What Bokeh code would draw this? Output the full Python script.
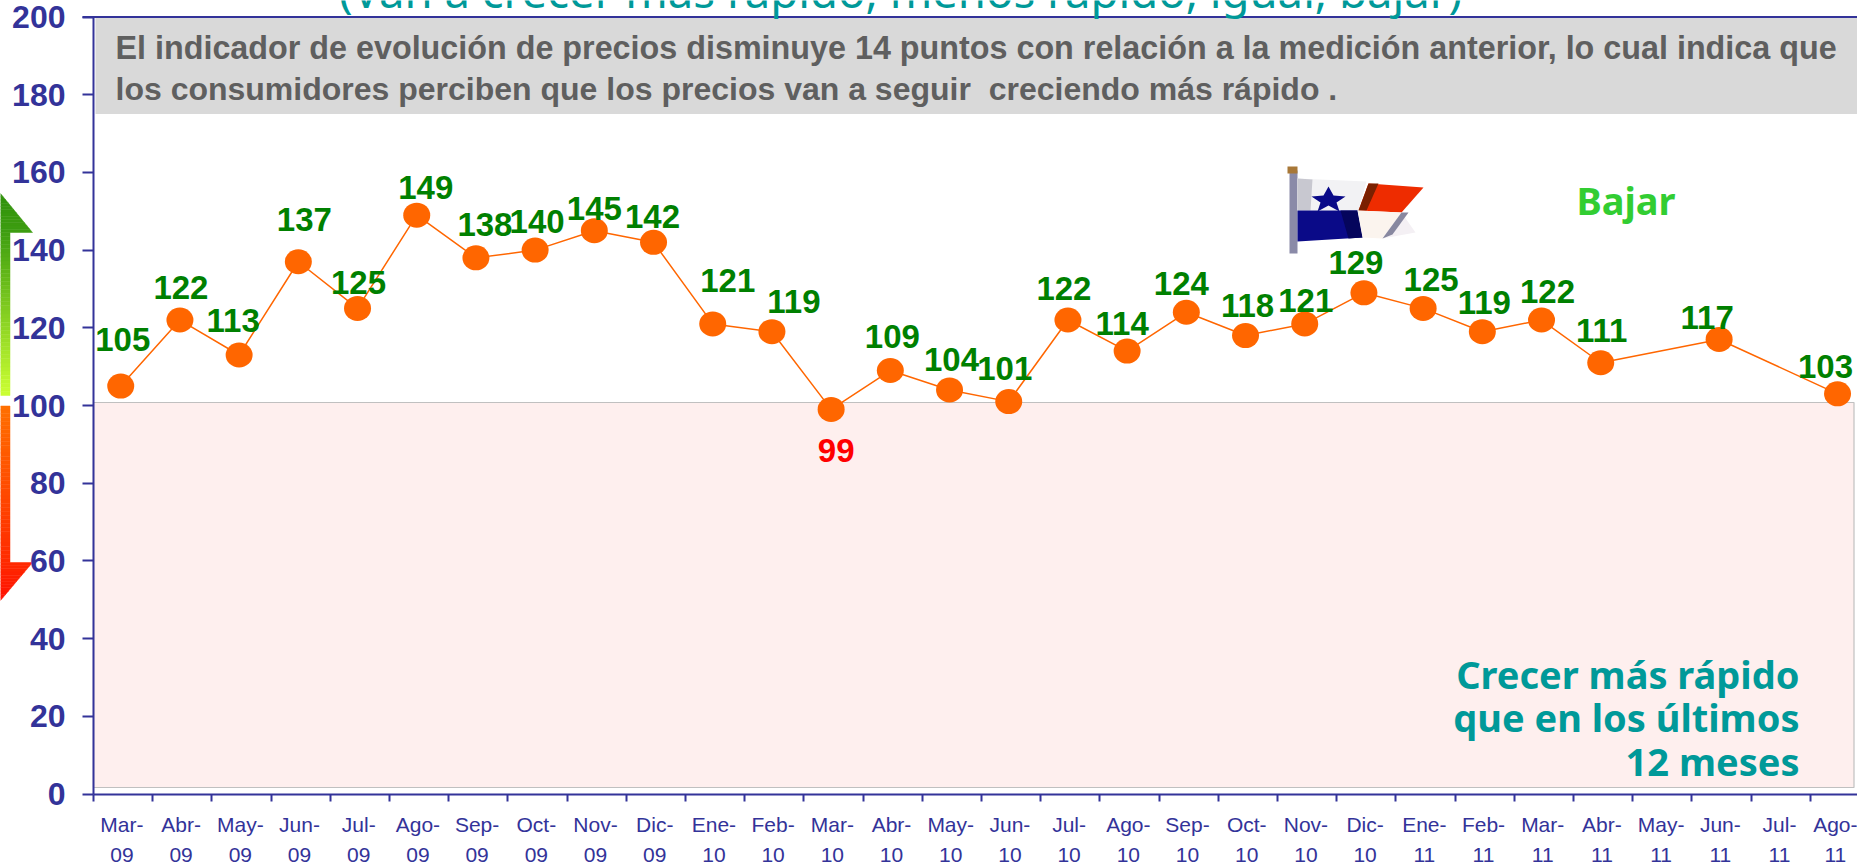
from bokeh.plotting import figure
from bokeh.models import Range1d, FixedTicker, ColumnDataSource, LinearAxis
from bokeh.core.properties import value
from bokeh.embed import file_html
from bokeh.resources import INLINE

# ---- data ----
months = ["Mar-\n09","Abr-\n09","May-\n09","Jun-\n09","Jul-\n09","Ago-\n09","Sep-\n09","Oct-\n09","Nov-\n09","Dic-\n09",
          "Ene-\n10","Feb-\n10","Mar-\n10","Abr-\n10","May-\n10","Jun-\n10","Jul-\n10","Ago-\n10","Sep-\n10","Oct-\n10",
          "Nov-\n10","Dic-\n10","Ene-\n11","Feb-\n11","Mar-\n11","Abr-\n11","May-\n11","Jun-\n11","Jul-\n11","Ago-\n11"]
values = [105,122,113,137,125,149,138,140,145,142,121,119,99,109,104,101,122,114,124,118,121,129,125,119,122,111,None,117,None,103]
y_ticks = [0,20,40,60,80,100,120,140,160,180,200]

# label offsets from the marker (pixels)
label_dx = [2,1,-6,6,1,9,9,2,0,-1,15,22,5,2,2,-4,-4,-5,-5,2,1,-8,8,2,6,1,-12,-12]
label_dy = [45,31,32,40,24,26,31,27,20,24,41,28,-43,32,28,31,30,26,27,28,21,28,27,27,27,30,20,25]

W, H = 1857, 864
X0, PX_X = 93.0, 59.2      # pixel of category-axis start, pixels per category
Y0, PX_Y = 793.5, 3.885    # pixel of value 0, pixels per value unit

def dx(px): return (px - X0) / PX_X
def dy(py): return (Y0 - py) / PX_Y

AXIS = "#333399"
p = figure(width=W, height=H, output_backend="svg", toolbar_location=None,
           x_range=Range1d(dx(0), dx(W)), y_range=Range1d(dy(H), dy(0)),
           x_axis_type=None, y_axis_type=None, min_border=0, outline_line_color=None,
           background_fill_color="white", border_fill_color="white")
p.grid.visible = False

# ---- panels ----
p.quad(left=[dx(95)], right=[dx(W)], bottom=[dy(113.5)], top=[dy(17.5)], fill_color="#d9d9d9", line_color=None)
p.quad(left=[0], right=[dx(1853.5)], bottom=[dy(787)], top=[dy(402)], fill_color="#feefee",
       line_color="#c0c0c0", line_width=1.2)
p.segment(x0=[dx(82)], y0=[200], x1=[dx(W)], y1=[200], line_color=AXIS, line_width=2)

# ---- axes ----
yaxis = LinearAxis(ticker=FixedTicker(ticks=y_ticks), fixed_location=0, bounds=(0, 200),
                   axis_line_color=AXIS, axis_line_width=2, major_tick_line_color=AXIS, major_tick_line_width=2,
                   major_tick_in=0, major_tick_out=11, minor_tick_line_color=None,
                   major_label_text_color=AXIS, major_label_text_font="Liberation Sans",
                   major_label_text_font_style="bold", major_label_text_font_size="32px",
                   major_label_standoff=17)
p.add_layout(yaxis, "left")
centers = [i + 0.48 for i in range(len(months))]
xaxis = LinearAxis(ticker=FixedTicker(ticks=centers, minor_ticks=list(range(len(months) + 1))),
                   fixed_location=0, bounds=(0, len(months)),
                   axis_line_color=AXIS, axis_line_width=2, major_tick_line_color=None,
                   minor_tick_line_color=AXIS, minor_tick_line_width=2, minor_tick_in=0, minor_tick_out=7,
                   major_label_overrides={c: m for c, m in zip(centers, months)},
                   major_label_text_color=AXIS, major_label_text_font="Liberation Sans",
                   major_label_text_font_size="21px", major_label_text_line_height=1.3,
                   major_label_standoff=12)
p.add_layout(xaxis, "below")

# ---- series ----
xs = [i + 0.46 for i, v in enumerate(values) if v is not None]
ys = [v for v in values if v is not None]
p.line(xs, ys, line_color="#ff6600", line_width=1.5)
p.ellipse(xs, ys, width=27, height=25, width_units="screen", height_units="screen",
          fill_color="#ff6600", line_color=None)
src = ColumnDataSource(dict(x=xs, y=ys, t=[str(v) for v in ys], dx=label_dx, dy=[-d - 2 for d in label_dy],
                            c=["#ff0000" if v < 100 else "#008000" for v in ys]))
p.text("x", "y", text="t", source=src, x_offset="dx", y_offset="dy", text_color="c",
       text_font=value("Liberation Sans"), text_font_style="bold", text_font_size="33px",
       text_align="center", text_baseline="middle")

# ---- texts ----
def txt(px, py, s, color, size, font, style="bold", align="left"):
    p.text([dx(px)], [dy(py)], text=[s], text_color=color, text_font=value(font), text_font_style=style,
           text_font_size=size, text_align=align, text_baseline="middle")

txt(900, -11, "(Van a crecer más rápido, menos rápido, igual, bajar)", "#009999", "45.5px", "Noto Sans", "normal", "center")
txt(115, 47.5, "El indicador de evolución de precios disminuye 14 puntos con relación a la medición anterior, lo cual indica que", "#5f5f5f", "32.3px", "Liberation Sans")
txt(115, 88, "los consumidores perciben que los precios van a seguir\u00a0 creciendo más rápido .", "#5f5f5f", "32px", "Liberation Sans")
txt(1576, 199, "Bajar", "#32cd32", "38px", "Noto Sans")
txt(1799, 673, "Crecer más rápido", "#009999", "38px", "Noto Sans", align="right")
txt(1799, 716, "que en los últimos", "#009999", "38px", "Noto Sans", align="right")
txt(1799, 760, "12 meses", "#009999", "38px", "Noto Sans", align="right")

# ---- gradient arrows (thin bands) ----
def lerp(a, b, t):
    return "#%02x%02x%02x" % tuple(round(a[i] + (b[i] - a[i]) * t) for i in range(3))

def band(y0, y1, xr0, xr1, c0, c1, n):
    for i in range(n):
        t0, t1 = i / n, (i + 1) / n
        p.patch([dx(0), dx(xr0 + (xr1 - xr0) * t0), dx(xr0 + (xr1 - xr0) * t1), dx(0)],
                [dy(y0 + (y1 - y0) * t0), dy(y0 + (y1 - y0) * t0), dy(y0 + (y1 - y0) * t1), dy(y0 + (y1 - y0) * t1)],
                fill_color=lerp(c0, c1, (t0 + t1) / 2), line_color=lerp(c0, c1, (t0 + t1) / 2), line_width=0.5)

band(193, 232, 0, 32, (0x2f, 0x90, 0x0c), (0x3e, 0x9e, 0x10), 12)
band(232, 395, 9.5, 9.5, (0x3e, 0x9e, 0x10), (0xcc, 0xff, 0x33), 40)
band(405.5, 562, 9.5, 9.5, (0xff, 0x70, 0x00), (0xff, 0x2a, 0x00), 40)
band(562, 600, 32, 0, (0xff, 0x2a, 0x00), (0xff, 0x10, 0x00), 12)

# ---- flag ----
def poly(points, color):
    p.patch([dx(a) for a, _ in points], [dy(b) for _, b in points], fill_color=color, line_color=None)

poly([(1289, 170), (1297, 170), (1297, 253), (1289, 253)], "#8a8aa8")
poly([(1287, 166), (1297, 166), (1297, 173), (1287, 173)], "#a87838")
poly([(1297, 178), (1366, 181), (1358, 210), (1297, 210)], "#f2f2f4")
poly([(1297, 178), (1312, 179), (1310, 210), (1297, 210)], "#c8c8d0")
poly([(1297, 210), (1357, 210), (1362, 237), (1297, 241)], "#0a0a88")
poly([(1340, 210), (1357, 210), (1362, 237), (1348, 238)], "#05055c")
poly([(1358, 210), (1368, 183), (1423, 187), (1401, 212)], "#ee2c00")
poly([(1358, 210), (1368, 183), (1378, 183), (1366, 210)], "#7a2000")
poly([(1357, 210), (1401, 212), (1382, 238), (1362, 237)], "#fbf4ee")
poly([(1401, 212), (1415, 232), (1382, 238)], "#f4f0f4")
poly([(1382, 238), (1392, 234), (1408, 212), (1401, 212)], "#8888a0")
poly([(1328, 186), (1333, 195), (1345, 196), (1336, 202), (1339, 211), (1328, 205), (1317, 211), (1320, 202), (1311, 196), (1323, 195)], "#0a0a88")

open("out.html", "w").write(file_html(p, INLINE))
